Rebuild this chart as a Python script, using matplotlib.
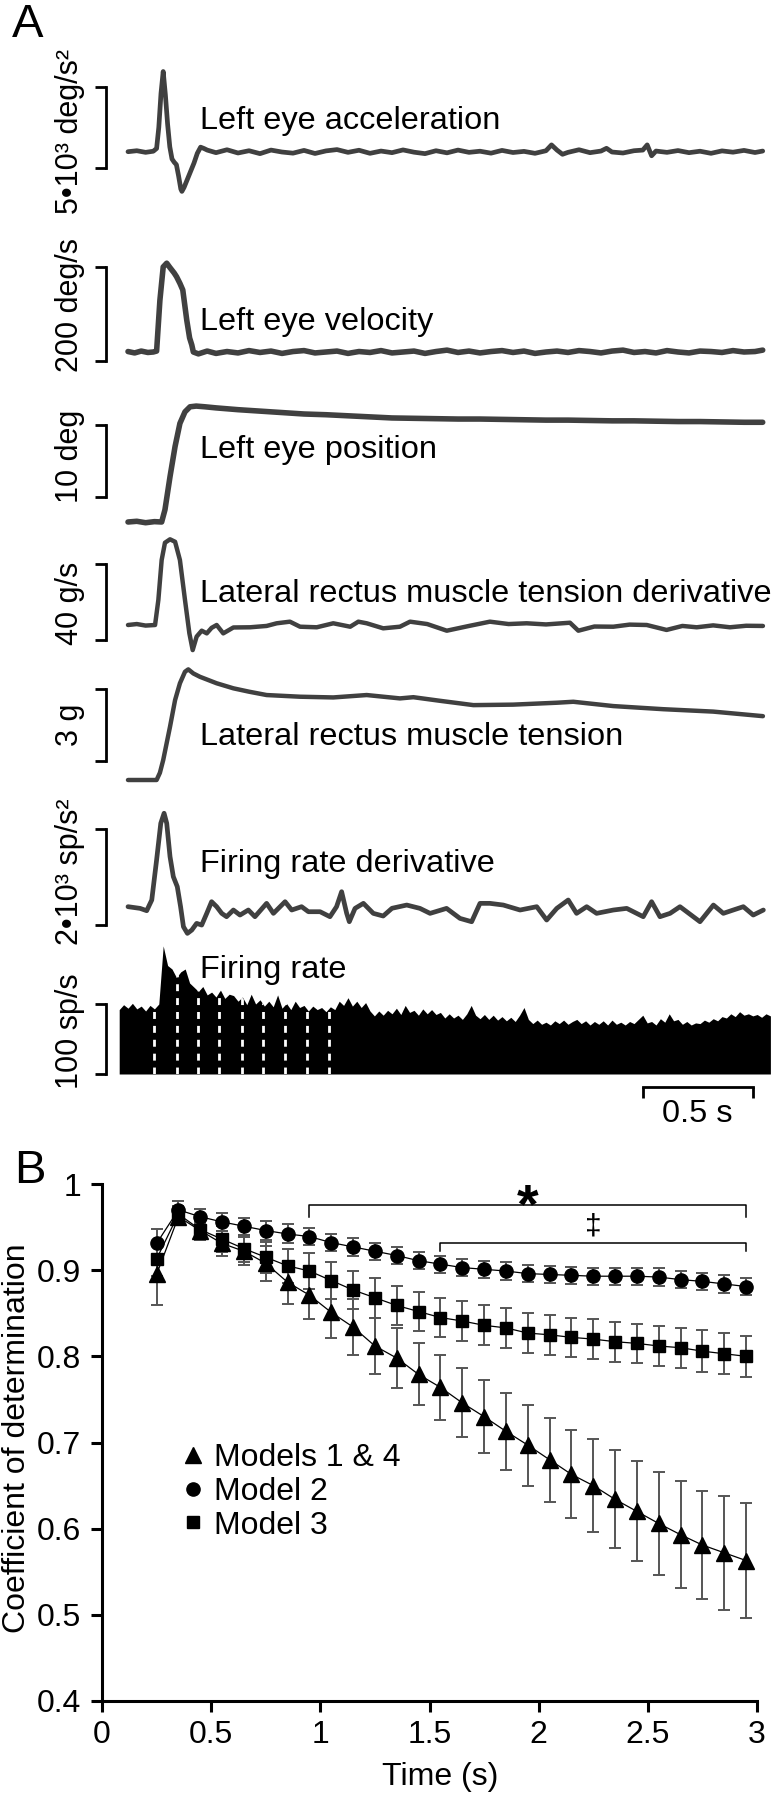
import numpy as np
import matplotlib
matplotlib.use("Agg")
import matplotlib.pyplot as plt
from matplotlib.lines import Line2D

plt.rcParams['font.family'] = ['Liberation Sans', 'DejaVu Sans']
plt.rcParams['font.size'] = 23

# ---------------------------------------------------------------- data (panel A)
acc_t = [0.00, 0.04, 0.08, 0.115, 0.13, 0.14, 0.15, 0.16, 0.17, 0.18, 0.19, 0.20, 0.21, 0.22, 0.23,
         0.24, 0.245, 0.255, 0.27, 0.285, 0.30, 0.315, 0.33, 0.345, 0.36, 0.40, 0.45, 0.50, 0.55, 0.60,
         0.65, 0.70, 0.75, 0.80, 0.85, 0.90, 0.95, 1.00, 1.05, 1.10, 1.15, 1.20, 1.25, 1.30, 1.35, 1.40,
         1.45, 1.50, 1.55, 1.60, 1.65, 1.70, 1.75, 1.80, 1.85, 1.90, 1.925, 1.95, 1.975, 2.00, 2.05, 2.10,
         2.15, 2.175, 2.20, 2.25, 2.30, 2.34, 2.36, 2.38, 2.40, 2.45, 2.50, 2.55, 2.60, 2.65, 2.70, 2.75,
         2.80, 2.85, 2.885]
acc_v = [0, 60, -40, 30, 200, 1500, 3600, 4950, 3500, 1700, 300, -450, -650, -800, -1500,
         -2300, -2450, -2200, -1700, -1200, -700, -100, 280, 200, 100, -60, 120, -80, 60, -120,
         100, -20, -90, 80, -110, 50, 130, -40, 90, -100, 40, -60, 110, -30, -120, 60,
         -70, 100, -40, 30, -90, 80, -50, 20, -100, 60, 420, 100, -160, -40, 120, -60,
         40, 210, -20, -80, 60, 100, 420, -250, 40, -40, 70, -60, 30, -100, 50, -30,
         80, -50, 40]

vel_t = [0.00, 0.03, 0.06, 0.09, 0.115, 0.13, 0.145, 0.16, 0.176, 0.19, 0.20, 0.21, 0.221, 0.236, 0.249,
         0.258, 0.267, 0.28, 0.29, 0.297, 0.32, 0.36, 0.40, 0.45, 0.50, 0.55, 0.60, 0.65, 0.70, 0.75,
         0.80, 0.85, 0.90, 0.95, 1.00, 1.05, 1.10, 1.15, 1.20, 1.25, 1.30, 1.35, 1.40, 1.45, 1.50,
         1.55, 1.60, 1.65, 1.70, 1.75, 1.80, 1.85, 1.90, 1.95, 2.00, 2.05, 2.10, 2.15, 2.20, 2.25,
         2.30, 2.35, 2.40, 2.45, 2.50, 2.55, 2.60, 2.65, 2.70, 2.75, 2.80, 2.85, 2.885]
vel_v = [1, -2, 2, -1, 0, 2, 110, 181, 189, 180, 174, 168, 160, 146, 132,
         100, 68, 30, 15, 0, -4, 2, -3, 1, -2, 3, -1, 2, -3, 1,
         3, -2, 0, 2, -3, 1, -1, 3, -2, 0, 2, -3, 1, 4, -1,
         2, -2, 1, 3, -1, 2, -3, 0, 2, -1, 3, 1, -2, 2, 4,
         -1, 1, -2, 3, 0, -2, 2, 1, -1, 3, 0, 1, 4]

pos_t = [0.00, 0.04, 0.08, 0.12, 0.153, 0.168, 0.191, 0.214, 0.236, 0.259, 0.282, 0.31, 0.35, 0.40,
         0.50, 0.60, 0.70, 0.80, 0.90, 1.00, 1.10, 1.20, 1.30, 1.40, 1.50, 1.60, 1.70, 1.80, 1.90,
         2.00, 2.10, 2.20, 2.30, 2.40, 2.50, 2.60, 2.70, 2.80, 2.885]
pos_v = [0.0, 0.1, -0.1, 0.05, 0.0, 1.7, 6.3, 10.5, 13.7, 15.3, 16.0, 16.1, 16.0, 15.85,
         15.6, 15.4, 15.2, 15.0, 14.9, 14.75, 14.6, 14.45, 14.4, 14.35, 14.3, 14.3, 14.25, 14.2, 14.15,
         14.15, 14.1, 14.05, 14.05, 14.0, 13.95, 13.95, 13.9, 13.85, 13.85]

tdv_t = [0.00, 0.04, 0.08, 0.123, 0.138, 0.153, 0.168, 0.191, 0.214, 0.236, 0.259, 0.279, 0.294, 0.312,
         0.335, 0.358, 0.38, 0.403, 0.433, 0.479, 0.555, 0.63, 0.676, 0.736, 0.782, 0.858, 0.933, 1.01,
         1.047, 1.085, 1.16, 1.236, 1.282, 1.36, 1.449, 1.55, 1.645, 1.73, 1.812, 1.9, 2.009, 2.047,
         2.12, 2.206, 2.28, 2.358, 2.448, 2.52, 2.585, 2.66, 2.736, 2.81, 2.886]
tdv_v = [0.0, 0.5, -0.3, 0.0, 13.2, 34.2, 43.3, 45.1, 43.8, 34.2, 13.2, -4.4, -13.2, -6.1,
         -3.0, -4.4, -1.5, 0.0, -4.4, -1.3, -1.2, -0.5, 0.9, 1.75, -0.9, -1.2, 0.9, -0.9,
         1.75, 0.9, -1.75, -0.9, 1.75, 0.5, -3.0, -0.5, 1.75, 0.5, 0.9, 0.3, 1.2, -3.0,
         -0.8, -0.9, 0.2, 0.0, -2.6, -0.5, -1.2, -0.2, -1.2, -0.4, -0.5]

ten_t = [0.00, 0.10, 0.13, 0.145, 0.16, 0.191, 0.214, 0.236, 0.259, 0.274, 0.297, 0.327, 0.403, 0.479,
         0.55, 0.63, 0.782, 0.933, 1.085, 1.236, 1.297, 1.418, 1.57, 1.75, 1.95, 2.024, 2.206, 2.433,
         2.66, 2.886]
ten_v = [0.0, 0.0, 0.0, 0.3, 0.83, 2.22, 3.33, 4.03, 4.51, 4.61, 4.44, 4.30, 4.03, 3.82,
         3.68, 3.54, 3.47, 3.44, 3.54, 3.40, 3.45, 3.30, 3.12, 3.14, 3.22, 3.26, 3.08, 2.95,
         2.85, 2.66]

frd_t = [0.00, 0.055, 0.085, 0.108, 0.13, 0.149, 0.164, 0.176, 0.191, 0.206, 0.224, 0.239, 0.252,
         0.27, 0.29, 0.312, 0.335, 0.358, 0.38, 0.403, 0.426, 0.448, 0.479, 0.509, 0.547, 0.577,
         0.63, 0.661, 0.714, 0.744, 0.789, 0.82, 0.873, 0.918, 0.948, 0.971, 0.994, 1.006, 1.032,
         1.07, 1.115, 1.16, 1.2, 1.267, 1.327, 1.373, 1.448, 1.509, 1.562, 1.6, 1.645, 1.706,
         1.782, 1.858, 1.903, 1.949, 2.001, 2.039, 2.085, 2.13, 2.206, 2.267, 2.342, 2.38, 2.418,
         2.464, 2.509, 2.6, 2.661, 2.706, 2.751, 2.797, 2.842, 2.888]
frd_v = [83, 48, 0, 221, 1049, 1808, 2015, 1808, 1118, 704, 497, 83, -331,
         -469, -400, -262, -297, -55, 186, 83, -55, -124, 14, -90, 14, -124,
         152, -55, 186, 14, 83, -21, -21, -124, 83, 393, -55, -228, 48,
         152, -55, -110, 50, 117, 48, -55, 48, -159, -228, 152, 152, 117,
         14, 83, -193, 48, 221, -55, 83, -55, 14, 48, -124, 186, -124,
         -55, 83, -228, 117, -55, 14, 83, -90, 14]

# firing rate histogram, 20 ms bins starting at -0.04 s
fr_bin_start, fr_bin_width = -0.04, 0.02
fr_v = [92, 99, 94, 101, 93, 97, 90, 98, 93, 100,
        183, 155, 150, 138, 146, 150, 130, 124, 118, 125,
        113, 117, 110, 120, 108, 114, 112, 104, 110, 99,
        114, 100, 106, 97, 104, 96, 113, 94, 101, 92,
        104, 95, 98, 90, 97, 92, 95, 89, 96, 92,
        104, 98, 109, 97, 104, 95, 102, 90, 83, 90,
        84, 91, 86, 94, 85, 98, 88, 91, 84, 93,
        86, 92, 85, 88, 80, 86, 80, 84, 78, 86,
        98, 84, 79, 85, 78, 84, 77, 82, 76, 81,
        75, 84, 95, 78, 72, 77, 71, 74, 70, 76,
        72, 77, 71, 75, 78, 72, 76, 70, 75, 71,
        76, 70, 77, 71, 74, 70, 75, 72, 78, 84,
        73, 75, 70, 79, 74, 86, 76, 78, 71, 75,
        70, 73, 72, 77, 74, 79, 76, 82, 80, 86,
        82, 89, 84, 86, 83, 85, 81, 86, 83]
fr_windows = [0.118, 0.223, 0.318, 0.414, 0.518, 0.614, 0.714, 0.814, 0.914]

trace_names = ['Left eye acceleration', 'Left eye velocity', 'Left eye position',
               'Lateral rectus muscle tension derivative', 'Lateral rectus muscle tension',
               'Firing rate derivative', 'Firing rate']
unit_labels = ['5•10³ deg/s²', '200 deg/s', '10 deg', '40 g/s', '3 g', '2•10³ sp/s²', '100 sp/s']
scale_lo = [-1000, -20, 3.5, -8, 0.8, -300, 0]
scale_hi = [4000, 180, 13.5, 32, 3.8, 1700, 100]
time_bar = (2.34, 2.84)   # 0.5 s

# ---------------------------------------------------------------- data (panel B)
t_B = [0.25, 0.35, 0.45, 0.55, 0.65, 0.75, 0.85, 0.95, 1.05, 1.15, 1.25, 1.35, 1.45, 1.55,
       1.65, 1.75, 1.85, 1.95, 2.05, 2.15, 2.25, 2.35, 2.45, 2.55, 2.65, 2.75, 2.85, 2.95]
r2_m14 = [0.895, 0.962, 0.946, 0.931, 0.922, 0.908, 0.886, 0.871, 0.851, 0.834, 0.812, 0.798, 0.779, 0.764,
          0.746, 0.730, 0.713, 0.697, 0.680, 0.663, 0.650, 0.634, 0.620, 0.606, 0.593, 0.581, 0.572, 0.563]
err_m14 = [0.035, 0.008, 0.010, 0.015, 0.016, 0.020, 0.025, 0.028, 0.030, 0.032, 0.033, 0.035, 0.036, 0.038,
           0.040, 0.042, 0.045, 0.047, 0.049, 0.051, 0.054, 0.057, 0.058, 0.060, 0.062, 0.063, 0.066, 0.067]
r2_m2 = [0.931, 0.970, 0.962, 0.956, 0.951, 0.946, 0.942, 0.939, 0.932, 0.927, 0.922, 0.917, 0.911, 0.907,
         0.903, 0.901, 0.899, 0.896, 0.895, 0.894, 0.893, 0.893, 0.893, 0.892, 0.889, 0.887, 0.884, 0.881]
err_m2 = [0.017, 0.010, 0.009, 0.010, 0.010, 0.011, 0.011, 0.010, 0.010, 0.010, 0.010, 0.010, 0.010, 0.010,
          0.010, 0.010, 0.010, 0.010, 0.010, 0.010, 0.010, 0.010, 0.010, 0.010, 0.010, 0.010, 0.010, 0.010]
r2_m3 = [0.913, 0.965, 0.947, 0.936, 0.925, 0.915, 0.905, 0.899, 0.888, 0.877, 0.868, 0.859, 0.852, 0.845,
         0.841, 0.836, 0.833, 0.827, 0.825, 0.822, 0.820, 0.817, 0.815, 0.812, 0.810, 0.806, 0.803, 0.800]
err_m3 = [0.020, 0.010, 0.012, 0.015, 0.016, 0.018, 0.020, 0.021, 0.022, 0.022, 0.023, 0.023, 0.023, 0.023,
          0.023, 0.023, 0.023, 0.023, 0.023, 0.023, 0.023, 0.023, 0.023, 0.023, 0.023, 0.024, 0.024, 0.024]
legend_labels = ['Models 1 & 4', 'Model 2', 'Model 3']
x_ticks = [0, 0.5, 1, 1.5, 2, 2.5, 3]
x_tick_labels = ['0', '0.5', '1', '1.5', '2', '2.5', '3']
y_ticks = [0.4, 0.5, 0.6, 0.7, 0.8, 0.9, 1.0]
y_tick_labels = ['0.4', '0.5', '0.6', '0.7', '0.8', '0.9', '1']
sig_start = [0.95, 1.55]
sig_end = [2.95, 2.95]
sig_level = [0.9755, 0.932]
sig_symbol = ['*', '‡']

# ---------------------------------------------------------------- figure
W, H, DPI = 772, 1800, 100
fig = plt.figure(figsize=(W / DPI, H / DPI), dpi=DPI)
TRACE_C = '#404040'
T0_PX, PX_PER_S = 128, 220.0


def trace_axes(top, bot, zero_px, px_per_unit):
    ax = fig.add_axes([0, 1 - bot / H, 1, (bot - top) / H])
    ax.set_xlim(-T0_PX / PX_PER_S, (W - T0_PX) / PX_PER_S)
    ax.set_ylim((zero_px - bot) / px_per_unit, (zero_px - top) / px_per_unit)
    ax.patch.set_visible(False)
    for s in ('top', 'right', 'bottom'):
        ax.spines[s].set_visible(False)
    ax.set_xticks([])
    return ax


def scale_bar(ax, lo, hi):
    sp = ax.spines['left']
    sp.set_position(('data', -0.1))
    sp.set_bounds(lo, hi)
    sp.set_linewidth(2.0)
    ax.set_yticks([lo, hi])
    ax.set_yticklabels([])
    ax.tick_params(axis='y', direction='out', length=8, width=2.0, color='black')


# layout per trace: (band top px, band bottom px, zero px, px per unit)
layout = [(55, 215, 151.7, 81 / 5000), (245, 385, 352, 94 / 200), (395, 530, 522, 72 / 10),
          (530, 660, 625, 76 / 40), (660, 790, 780, 72 / 3), (795, 945, 910.7, 96.7 / 2000),
          (925, 1135, 1074, 70 / 100)]
label_center_px = [131, 305, 456, 603, 725, 872, 1031]
name_base_px = [129, 330, 458, 602, 745, 872, 978]
trace_data = [(acc_t, acc_v, 3.4), (vel_t, vel_v, 4.0), (pos_t, pos_v, 4.0), (tdv_t, tdv_v, 3.2),
              (ten_t, ten_v, 3.2), (frd_t, frd_v, 3.4), None]

axes_A = []
for i in range(7):
    top, bot, zpx, k = layout[i]
    ax = trace_axes(top, bot, zpx, k)
    scale_bar(ax, scale_lo[i], scale_hi[i])
    if trace_data[i] is not None:
        tt, vv, lw = trace_data[i]
        ax.plot(tt, vv, color=TRACE_C, lw=lw, solid_joinstyle='round', solid_capstyle='round')
    fig.text(78 / W, 1 - label_center_px[i] / H, unit_labels[i], rotation=90,
             rotation_mode='anchor', ha='center', va='baseline', fontsize=22)
    fig.text(200 / W, 1 - name_base_px[i] / H, trace_names[i], ha='left', va='baseline',
             fontsize=23.4)
    axes_A.append(ax)

# firing rate histogram
axF = axes_A[6]
fr_t = fr_bin_start + fr_bin_width * np.arange(len(fr_v))
poly = axF.fill_between(fr_t, 0, fr_v, color='black', lw=0)
vl = axF.vlines(fr_windows, 0, 300, colors='white', linestyles=(0, (2.5, 2.5)), linewidth=2)
vl.set_clip_path(poly.get_paths()[0], axF.transData)

# time scale bar
sp = axF.spines['bottom']
sp.set_visible(True)
sp.set_position(('data', (1074 - 1087) / 0.7))
sp.set_bounds(*time_bar)
sp.set_linewidth(2.0)
axF.set_xticks(list(time_bar))
axF.set_xticklabels([])
axF.tick_params(axis='x', direction='out', length=8, width=2.0, color='black')
fig.text(697 / W, 1 - 1122 / H, '0.5 s', ha='center', va='baseline', fontsize=23.4)

fig.text(12 / W, 1 - 37 / H, 'A', fontsize=34, va='baseline', ha='left')
fig.text(14 / W, 1 - 1183 / H, 'B', fontsize=34, va='baseline', ha='left')

# ---------------------------------------------------------------- panel B
axB = fig.add_axes([102 / W, 1 - 1701 / H, 655 / W, 517 / H])
axB.set_xlim(0, 3)
axB.set_ylim(0.4, 1.0)
for s in ('top', 'right'):
    axB.spines[s].set_visible(False)
for s in ('left', 'bottom'):
    axB.spines[s].set_linewidth(2.2)
axB.set_xticks(x_ticks)
axB.set_xticklabels(x_tick_labels)
axB.set_yticks(y_ticks)
axB.set_yticklabels(y_tick_labels)
axB.tick_params(direction='out', length=8, width=2.2, labelsize=23)
axB.tick_params(axis='y', pad=7)
axB.tick_params(axis='x', pad=6)

series = [(r2_m14, err_m14, '^', 11), (r2_m3, err_m3, 's', 8.5), (r2_m2, err_m2, 'o', 9.5)]
for v, e, m, ms in series:
    axB.errorbar(t_B, v, yerr=e, fmt='none', ecolor='#555555', elinewidth=1.4,
                 capsize=4.5, capthick=1.4, zorder=2, clip_on=False)
for v, e, m, ms in series:
    axB.plot(t_B, v, marker=m, ms=ms, color='black', lw=0.9, zorder=3, clip_on=False)

handles = [Line2D([], [], marker='^', ls='none', color='black', ms=11),
           Line2D([], [], marker='o', ls='none', color='black', ms=9.5),
           Line2D([], [], marker='s', ls='none', color='black', ms=8.5)]
axB.legend(handles, legend_labels, loc='upper left', bbox_to_anchor=(177 / W, 1 - 1443 / H),
           bbox_transform=fig.transFigure, frameon=False, borderpad=0, borderaxespad=0,
           handlelength=1.0, handletextpad=0.15, labelspacing=0.12, fontsize=23)

for s0, s1, lvl, sym in zip(sig_start, sig_end, sig_level, sig_symbol):
    drop = 0.014 if sym == '*' else 0.010
    axB.plot([s0, s0, s1, s1], [lvl - drop, lvl, lvl, lvl - drop], color='black', lw=1.1,
             clip_on=False)
    if sym == '*':
        axB.annotate(sym, xy=((s0 + s1) / 2, lvl), xytext=(0, -12), textcoords='offset points',
                     ha='center', va='baseline', fontsize=40, fontweight='bold')
    else:
        axB.annotate(sym, xy=((s0 + s1) / 2, lvl), xytext=(0, 5.6), textcoords='offset points',
                     ha='center', va='baseline', fontsize=21.5)

axB.set_xlabel('Time (s)', fontsize=23)
axB.xaxis.set_label_coords(0.516, -0.118)
axB.set_ylabel('Coefficient of determination', fontsize=23)
axB.yaxis.set_label_coords(-0.107, 0.509)

fig.savefig('out.png', dpi=DPI)
